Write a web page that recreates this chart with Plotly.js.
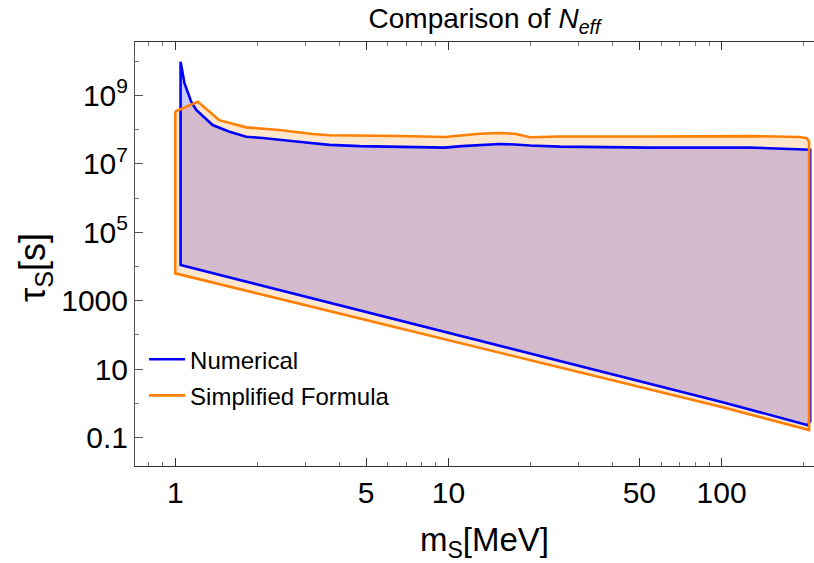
<!DOCTYPE html>
<html>
<head>
<meta charset="utf-8">
<script src="https://cdn.plot.ly/plotly-3.0.1.min.js"></script>
<style>html,body{margin:0;padding:0;background:#fff;overflow:hidden;}</style>
</head>
<body>
<div id="chart" style="width:834px;height:563px;"></div>
<script>
// Numerical result: upper boundary (left spike -> right edge), masses in MeV, lifetimes in s
const numTopMass = [1.046, 1.081, 1.144, 1.194, 1.37, 1.58, 1.82, 2.09, 2.77, 3.67, 4.73, 6.63, 9.7, 11.2, 13.0, 15.4, 17.5, 19.9, 25.6, 54.7, 127, 202, 211];
const numTopTau  = [9.7e9, 2.3e9, 6.6e8, 3.8e8, 1.37e8, 8.7e7, 6.2e7, 5.7e7, 4.5e7, 3.6e7, 3.3e7, 3.1e7, 3.0e7, 3.3e7, 3.6e7, 3.8e7, 3.7e7, 3.45e7, 3.2e7, 3.0e7, 3.0e7, 2.7e7, 2.6e7];
// Numerical result: lower boundary (left -> right)
const numBottomMass = [1.046, 10, 100, 207, 211];
const numBottomTau  = [1.1e4, 114, 1.1, 0.23, 0.3];

// Simplified formula: upper boundary (left -> right)
const simTopMass = [1.0, 1.21, 1.45, 1.82, 2.41, 3.18, 3.67, 4.73, 6.63, 9.7, 11.2, 13.0, 15.4, 17.5, 19.9, 25.6, 54.7, 127, 193, 205, 209];
const simTopTau  = [3.4e8, 6.6e8, 1.9e8, 1.17e8, 9.8e7, 7.5e7, 6.9e7, 6.8e7, 6.55e7, 6.1e7, 6.8e7, 7.6e7, 8.0e7, 7.6e7, 6.0e7, 6.3e7, 6.3e7, 6.5e7, 6.1e7, 5.6e7, 4.5e7];
// Simplified formula: lower boundary (left -> right)
const simBottomMass = [1.0, 10, 100, 209];
const simBottomTau  = [6.3e3, 71, 0.78, 0.166];

// Build a closed outline: top edge left->right, then bottom edge right->left
function outline(topM, topT, botM, botT) {
  const x = topM.slice().concat(botM.slice().reverse());
  const y = topT.slice().concat(botT.slice().reverse());
  x.push(topM[0]); y.push(topT[0]);
  return {x, y};
}
const numRegion = outline(numTopMass, numTopTau, numBottomMass, numBottomTau);
const simRegion = outline(simTopMass, simTopTau, simBottomMass, simBottomTau);

const BLUE = '#0000ff';
const ORANGE = '#ff7f00';
const FONT = 'Liberation Sans, Arial, sans-serif';

const traces = [
  {x: numRegion.x, y: numRegion.y, mode: 'lines', fill: 'toself',
   fillcolor: 'rgba(0,0,255,0.21)', line: {width: 0, color: BLUE},
   showlegend: false, hoverinfo: 'skip'},
  {x: simRegion.x, y: simRegion.y, mode: 'lines', fill: 'toself',
   fillcolor: 'rgba(255,128,0,0.2)', line: {width: 0, color: ORANGE},
   showlegend: false, hoverinfo: 'skip'},
  {x: numRegion.x, y: numRegion.y, mode: 'lines', name: 'Numerical', legendgroup: 'num',
   line: {color: BLUE, width: 2.6}},
  {x: simRegion.x, y: simRegion.y, mode: 'lines', name: 'Simplified Formula', legendgroup: 'sim',
   line: {color: ORANGE, width: 2.6}}
];

const xMajor = [1, 5, 10, 50, 100];
const xMinor = [0.8, 0.9, 2, 3, 4, 6, 7, 8, 9, 20, 30, 40, 60, 70, 80, 90, 200];
const yMajor = [0.1, 10, 1000, 1e5, 1e7, 1e9];
const yMajorText = ['0.1', '10', '1000', '10<sup>5</sup>', '10<sup>7</sup>', '10<sup>9</sup>'];
const yMinor = [1, 100, 1e4, 1e6, 1e8, 1e10];

const layout = {
  width: 834, height: 563,
  margin: {l: 135, r: 0, t: 42, b: 97},
  paper_bgcolor: '#fff', plot_bgcolor: '#fff',
  font: {family: FONT, color: '#000'},
  title: {
    text: 'Comparison of <i>N</i><sub><i>eff</i></sub>',
    font: {size: 28, family: FONT, color: '#000'},
    x: 0.5, xref: 'paper', xanchor: 'center',
    y: 1 - 18 / 563, yref: 'container', yanchor: 'middle'
  },
  xaxis: {
    type: 'log', range: [-0.1473, 2.4114],
    tickmode: 'array', tickvals: xMajor, ticktext: xMajor.map(String),
    ticks: 'inside', ticklen: 8, tickwidth: 1, tickcolor: '#333',
    showline: true, linecolor: '#333', linewidth: 1, mirror: 'ticks',
    showgrid: false, zeroline: false,
    tickfont: {size: 30, family: FONT, color: '#000'},
    minor: {tickmode: 'array', tickvals: xMinor, ticks: 'inside', ticklen: 4, tickcolor: '#777', showgrid: false},
    title: {text: 'm<sub>S</sub>[MeV]', font: {size: 33, family: FONT, color: '#000'}, standoff: 20}
  },
  yaxis: {
    type: 'log', range: [-1.833, 10.564],
    tickmode: 'array', tickvals: yMajor, ticktext: yMajorText,
    ticks: 'inside', ticklen: 8, tickwidth: 1, tickcolor: '#555',
    showline: true, linecolor: '#555', linewidth: 1, mirror: false,
    showgrid: false, zeroline: false,
    tickfont: {size: 30, family: FONT, color: '#000'},
    minor: {tickmode: 'array', tickvals: yMinor, ticks: 'inside', ticklen: 4, tickcolor: '#777', showgrid: false}
  },
  annotations: [{
    text: 'τ<sub>S</sub>[s]', textangle: -90,
    font: {size: 36, family: FONT, color: '#000'},
    xref: 'paper', x: -135 / 699 + 35 / 699, xanchor: 'center',
    yref: 'paper', y: (466 - 268) / 424, yanchor: 'middle',
    showarrow: false
  }],
  legend: {
    x: 0.013, y: 0.304, xanchor: 'left', yanchor: 'top',
    bgcolor: 'rgba(0,0,0,0)', borderwidth: 0,
    font: {size: 24, family: FONT, color: '#000'},
    itemwidth: 36,
    tracegroupgap: 2
  },
  showlegend: true
};

Plotly.newPlot('chart', traces, layout, {displayModeBar: false, staticPlot: true});
</script>
</body>
</html>
